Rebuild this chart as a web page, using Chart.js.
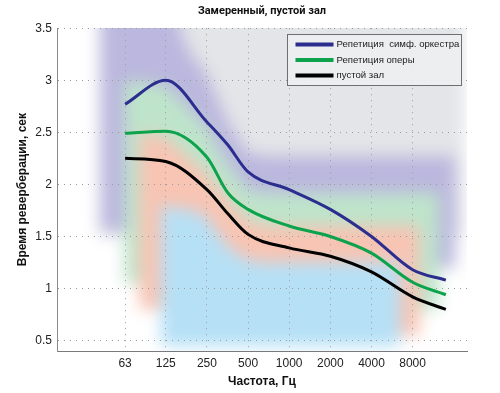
<!DOCTYPE html>
<html>
<head>
<meta charset="utf-8">
<script src="https://cdn.jsdelivr.net/npm/chart.js@4"></script>
<style>
  html, body { margin: 0; padding: 0; background: #fff; }
  #wrap { position: relative; width: 500px; height: 393px; }
  #zoneClip { position: absolute; overflow: hidden; }
  #zones { position: absolute; }
  #myChart { position: absolute; left: 0; top: 0; }
</style>
</head>
<body>
<div id="wrap">
  <div id="zoneClip"><canvas id="zones" width="500" height="393"></canvas></div>
  <canvas id="myChart" width="500" height="393"></canvas>
</div>
<script>
// curves
const hz = [63, 125, 250, 355, 500, 1000, 2000, 4000, 8000, 14000];
const symphony = [2.77, 3.0, 2.6, 2.38, 2.12, 1.95, 1.76, 1.5, 1.18, 1.08];
const opera = [2.49, 2.51, 2.26, 1.92, 1.76, 1.6, 1.5, 1.34, 1.06, 0.94];
const emptyHall = [2.25, 2.22, 1.95, 1.72, 1.52, 1.39, 1.31, 1.16, 0.92, 0.8];

// tick labels
const hzTicks = [63, 125, 250, 500, 1000, 2000, 4000, 8000];
const secTicks = [0.5, 1, 1.5, 2, 2.5, 3, 3.5];

// soft coloured zones behind the curves
const grayHz = [40, 19000];
const grayTop = [3.9, 3.9];
const grayBottom = [1.5, 1.5];

const purpleHz = [42, 125, 180, 250, 355, 500, 700, 9000, 12500, 16500];
const purpleTop = [3.9, 3.9, 3.3, 3.05, 2.6, 2.3, 2.27, 2.27, 2.27, 2.27];
const purpleBottom = [1.55, 1.55, 1.55, 1.55, 1.55, 1.55, 1.55, 1.55, 1.2, 1.2];

const greenHz = [62, 125, 250, 355, 500, 700, 9000, 12500];
const greenTop = [3.0, 2.95, 2.55, 2.2, 1.95, 1.92, 1.92, 1.92];
const greenBottom = [1.05, 1.05, 1.05, 1.05, 1.05, 1.05, 0.8, 0.8];

const salmonHz = [80, 125, 250, 355, 500, 700, 6500, 9000];
const salmonTop = [2.5, 2.45, 2.1, 1.85, 1.65, 1.6, 1.6, 1.6];
const salmonBottom = [0.8, 0.8, 0.8, 0.8, 0.8, 0.8, 0.55, 0.55];

const blueHz = [115, 200, 250, 355, 500, 700, 6500];
const blueTop = [1.8, 1.75, 1.68, 1.4, 1.27, 1.25, 1.25];
const blueBottom = [0.45, 0.45, 0.45, 0.45, 0.45, 0.45, 0.45];

const pts = (xs, ys) => xs.map((x, i) => ({ x: x, y: ys[i] }));

function curve(label, values, color) {
  return {
    label: label,
    data: pts(hz, values),
    borderColor: color,
    backgroundColor: color,
    borderWidth: 3,
    pointRadius: 0,
    cubicInterpolationMode: 'monotone',
    fill: false
  };
}

function zone(xs, top, bottom, color, order) {
  return [{
    data: pts(xs, top),
    borderWidth: 0,
    borderColor: 'rgba(0,0,0,0)',
    backgroundColor: color,
    pointRadius: 0,
    tension: 0,
    fill: '+1',
    order: order
  }, {
    data: pts(xs, bottom),
    borderWidth: 0,
    borderColor: 'rgba(0,0,0,0)',
    pointRadius: 0,
    tension: 0,
    fill: false,
    order: order
  }];
}

// plain box blur, 3 passes ~ gaussian; canvas filters are not rendered here
function softenCanvas(canvas, r, passes) {
  const c = canvas.getContext('2d');
  const w = canvas.width, h = canvas.height;
  const img = c.getImageData(0, 0, w, h);
  const d = img.data;
  let a = new Float32Array(w * h * 3);
  let b = new Float32Array(w * h * 3);
  for (let i = 0; i < w * h; i++) {
    a[i * 3] = d[i * 4]; a[i * 3 + 1] = d[i * 4 + 1]; a[i * 3 + 2] = d[i * 4 + 2];
  }
  const n = 2 * r + 1;
  for (let p = 0; p < passes; p++) {
    for (let y = 0; y < h; y++) {
      for (let x = 0; x < w; x++) {
        let s0 = 0, s1 = 0, s2 = 0;
        for (let k = -r; k <= r; k++) {
          const xx = Math.min(w - 1, Math.max(0, x + k));
          const j = (y * w + xx) * 3;
          s0 += a[j]; s1 += a[j + 1]; s2 += a[j + 2];
        }
        const o = (y * w + x) * 3;
        b[o] = s0 / n; b[o + 1] = s1 / n; b[o + 2] = s2 / n;
      }
    }
    for (let y = 0; y < h; y++) {
      for (let x = 0; x < w; x++) {
        let s0 = 0, s1 = 0, s2 = 0;
        for (let k = -r; k <= r; k++) {
          const yy = Math.min(h - 1, Math.max(0, y + k));
          const j = (yy * w + x) * 3;
          s0 += b[j]; s1 += b[j + 1]; s2 += b[j + 2];
        }
        const o = (y * w + x) * 3;
        a[o] = s0 / n; a[o + 1] = s1 / n; a[o + 2] = s2 / n;
      }
    }
  }
  for (let i = 0; i < w * h; i++) {
    d[i * 4] = a[i * 3]; d[i * 4 + 1] = a[i * 3 + 1]; d[i * 4 + 2] = a[i * 3 + 2]; d[i * 4 + 3] = 255;
  }
  c.putImageData(img, 0, 0);
}

const whiteBack = {
  id: 'whiteBack',
  beforeDraw(chart) {
    const c = chart.ctx;
    c.save();
    c.fillStyle = '#ffffff';
    c.fillRect(0, 0, chart.width, chart.height);
    c.restore();
  }
};

const boxLegend = {
  id: 'boxLegend',
  afterDraw(chart) {
    const c = chart.ctx;
    const a = chart.chartArea;
    const right = Math.round(a.right) - 5.5;
    const left = right - 174;
    const top = Math.round(a.top) + 6.5;
    const bottom = top + 51;
    c.save();
    c.fillStyle = 'rgba(236,238,240,0.9)';
    c.fillRect(left, top, right - left, bottom - top);
    c.strokeStyle = '#6e6e6e';
    c.lineWidth = 1;
    c.strokeRect(left, top, right - left, bottom - top);
    c.font = '9.6px "Liberation Sans", Arial, sans-serif';
    c.textBaseline = 'middle';
    c.textAlign = 'left';
    chart.data.datasets.forEach((d, i) => {
      const y = top + 10 + i * 15.5;
      c.strokeStyle = d.borderColor;
      c.lineWidth = 4;
      c.beginPath();
      c.moveTo(left + 8, y);
      c.lineTo(left + 46, y);
      c.stroke();
      c.fillStyle = '#1a1a1a';
      c.fillText(d.label, left + 49, y);
    });
    c.restore();
  }
};

const tickFont = { family: '"Liberation Sans", Arial, sans-serif', size: 12 };
const boldFont = { family: '"Liberation Sans", Arial, sans-serif', size: 12, weight: 'bold' };

const main = new Chart(document.getElementById('myChart'), {
  type: 'line',
  data: {
    datasets: [
      curve('Репетиция  симф. оркестра', symphony, '#2b2e8e'),
      curve('Репетиция оперы', opera, '#0da24c'),
      curve('пустой зал', emptyHall, '#000000')
    ]
  },
  options: {
    responsive: false,
    animation: false,
    events: [],
    layout: { padding: { left: 0, right: 33, top: 0, bottom: 0 } },
    plugins: {
      legend: { display: false },
      tooltip: { enabled: false },
      title: {
        display: true,
        fullSize: false,
        text: 'Замеренный, пустой зал',
        color: '#111',
        font: { family: 'Roboto, "Liberation Sans", sans-serif', size: 11, weight: 'bold' },
        padding: { top: 5, bottom: 10 }
      }
    },
    scales: {
      x: {
        type: 'logarithmic',
        min: 20,
        max: 20000,
        afterBuildTicks: s => { s.ticks = hzTicks.map(v => ({ value: v })); },
        afterFit: s => { s.height = 42; },
        ticks: {
          autoSkip: false,
          maxRotation: 0,
          padding: 5,
          color: '#222',
          font: tickFont,
          callback: v => String(v)
        },
        grid: { drawTicks: false, color: '#9a9a9a', lineWidth: 1 },
        border: { color: '#7a7a7a', width: 1, dash: [1, 5] },
        title: {
          display: true,
          text: 'Частота, Гц',
          color: '#111',
          font: boldFont,
          padding: { top: 0, bottom: 4 }
        }
      },
      y: {
        min: 0.4,
        max: 3.5,
        afterBuildTicks: s => { s.ticks = secTicks.map(v => ({ value: v })); },
        afterFit: s => { s.width = 57; },
        ticks: {
          padding: 5,
          color: '#222',
          font: tickFont,
          callback: v => String(v)
        },
        grid: { drawTicks: false, color: '#9a9a9a', lineWidth: 1 },
        border: { color: '#8a8a8a', width: 1, dash: [1, 5] },
        title: {
          display: true,
          text: 'Время реверберации, сек',
          color: '#111',
          font: boldFont,
          padding: { top: 15, bottom: 0 }
        }
      }
    }
  },
  plugins: [boxLegend]
});

// zones: a second chart under the first, same scales, then softened
// and clipped to the plot area of the main chart
const area = main.chartArea;
const pad = 28;
const clipBox = document.getElementById('zoneClip');
clipBox.style.left = area.left + 'px';
clipBox.style.top = area.top + 'px';
clipBox.style.width = (area.right - area.left) + 'px';
clipBox.style.height = (area.bottom - area.top) + 'px';
const zoneCanvas = document.getElementById('zones');
zoneCanvas.style.left = -area.left + 'px';
zoneCanvas.style.top = -area.top + 'px';

new Chart(zoneCanvas, {
  type: 'line',
  data: {
    datasets: [
      ...zone(blueHz, blueTop, blueBottom, '#b6e0f6', 6),
      ...zone(salmonHz, salmonTop, salmonBottom, '#f8c4b3', 7),
      ...zone(greenHz, greenTop, greenBottom, '#bee4cb', 8),
      ...zone(purpleHz, purpleTop, purpleBottom, '#bbb7de', 9),
      ...zone(grayHz, grayTop, grayBottom, '#e3e5e8', 10)
    ]
  },
  options: {
    responsive: false,
    animation: false,
    events: [],
    layout: {
      padding: {
        left: area.left - pad,
        top: 0,
        right: main.width - area.right - pad,
        bottom: main.height - area.bottom - pad
      }
    },
    plugins: {
      legend: { display: false },
      tooltip: { enabled: false },
      title: { display: false }
    },
    scales: {
      x: {
        type: 'logarithmic',
        display: false,
        min: main.scales.x.getValueForPixel(area.left - pad),
        max: main.scales.x.getValueForPixel(area.right + pad)
      },
      y: {
        display: false,
        min: main.scales.y.getValueForPixel(area.bottom + pad),
        max: main.scales.y.getValueForPixel(0)
      }
    }
  },
  plugins: [whiteBack]
});

softenCanvas(zoneCanvas, 7, 3);
</script>
</body>
</html>
